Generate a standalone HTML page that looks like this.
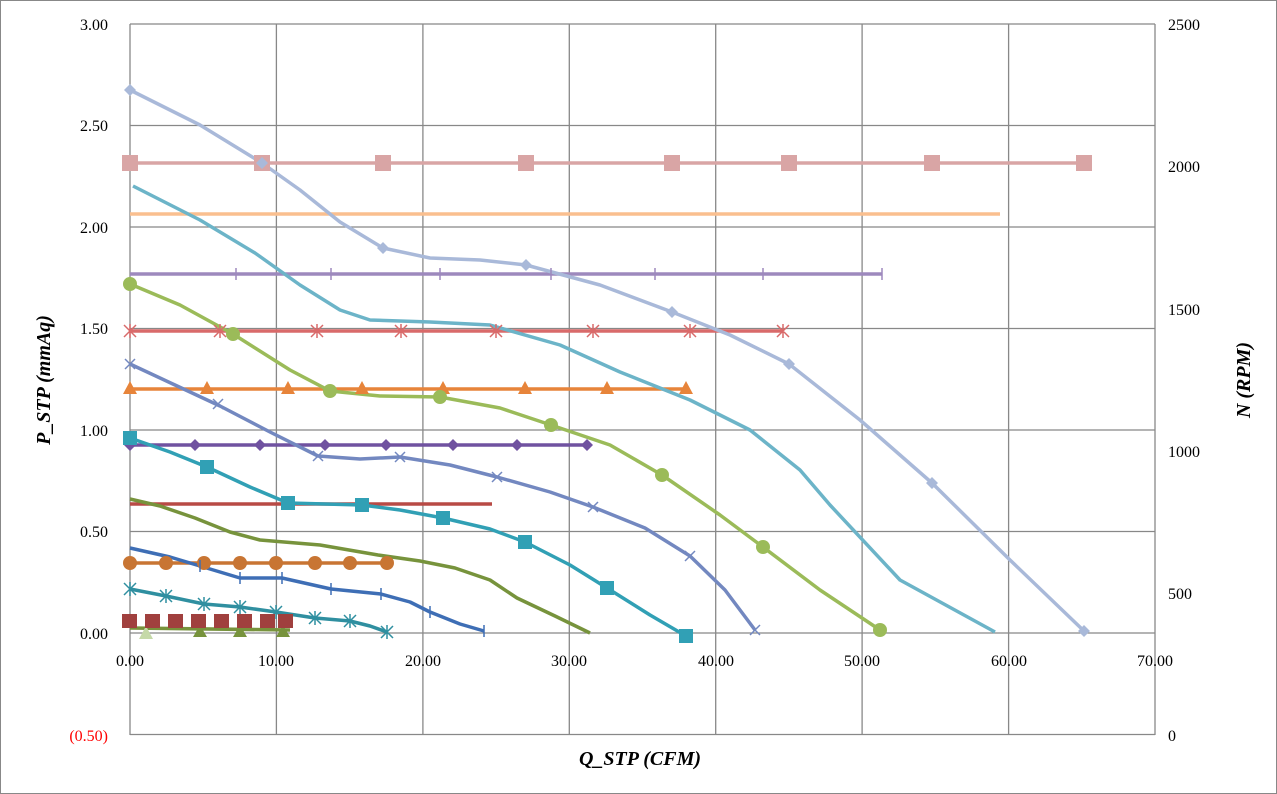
<!DOCTYPE html><html><head><style>body{margin:0;background:#fff}svg{display:block}text{font-family:"Liberation Serif",serif;font-size:16px;fill:#000}</style></head><body>
<svg width="1277" height="794" viewBox="0 0 1277 794">
<rect x="0.5" y="0.5" width="1276" height="793" fill="#fff" stroke="#888"/>
<g stroke="#888" stroke-width="1.3" fill="none">
<path d="M130 24H1155M130 125.5H1155M130 227H1155M130 328.5H1155M130 430H1155M130 531.5H1155M130 633H1155M130 734.5H1155"/>
<path d="M130 24V735M276.4 24V735M422.9 24V735M569.3 24V735M715.7 24V735M862.1 24V735M1008.6 24V735M1155 24V735"/>
</g>
<g text-anchor="end">
<text x="108" y="30">3.00</text><text x="108" y="131">2.50</text><text x="108" y="233">2.00</text><text x="108" y="334">1.50</text><text x="108" y="436">1.00</text><text x="108" y="537">0.50</text><text x="108" y="639">0.00</text><text x="108" y="741" style="fill:#f00">(0.50)</text></g>
<g><text x="1168" y="30">2500</text><text x="1168" y="172">2000</text><text x="1168" y="315">1500</text><text x="1168" y="457">1000</text><text x="1168" y="599">500</text><text x="1168" y="741">0</text></g>
<g text-anchor="middle"><text x="130" y="666">0.00</text><text x="276" y="666">10.00</text><text x="423" y="666">20.00</text><text x="569" y="666">30.00</text><text x="716" y="666">40.00</text><text x="862" y="666">50.00</text><text x="1009" y="666">60.00</text><text x="1155" y="666">70.00</text></g>
<text x="640" y="765" text-anchor="middle" style="font-weight:bold;font-style:italic;font-size:20px">Q_STP (CFM)</text>
<text transform="translate(50 380) rotate(-90)" text-anchor="middle" style="font-weight:bold;font-style:italic;font-size:20px">P_STP (mmAq)</text>
<text transform="translate(1250 380) rotate(-90)" text-anchor="middle" style="font-weight:bold;font-style:italic;font-size:20px">N (RPM)</text>
<g fill="none" stroke-width="3.5" stroke-linejoin="round">
<polyline stroke="#d9a5a5" points="130,163 1084,163"/>
<polyline stroke="#fabf8f" points="130,214 1000,214"/>
<polyline stroke="#9d89bd" points="130,274 882,274"/>
<polyline stroke="#d96a6a" points="130,331 783,331"/>
<polyline stroke="#e7843a" points="130,389 686,389"/>
<polyline stroke="#7052a0" points="130,445 587,445"/>
<polyline stroke="#b84a45" points="130,504 492,504"/>
<polyline stroke="#c87533" points="130,563 387,563"/>
<polyline stroke="#a9b9d9" points="130,90 200,125 262,163 300,190 340,222 383,248 430,258 480,260 526,265 600,285 672,312 730,335 789,364 860,420 932,483 1010,560 1084,631"/>
<polyline stroke="#6cb4c8" points="133,186 200,220 255,253 300,285 340,310 370,320 430,322 490,325 560,345 620,372 690,400 750,430 800,470 830,505 900,580 995,632"/>
<polyline stroke="#9bbb59" points="130,284 180,305 233,334 290,370 330,391 380,396 440,397 500,408 551,425 610,445 662,475 720,515 763,547 820,590 880,630"/>
<polyline stroke="#7388c0" points="130,364 175,385 220,406 270,432 318,456 360,459 400,457 450,465 497,477 550,492 593,507 645,528 690,556 725,590 755,630"/>
<polyline stroke="#31a0b5" points="130,438 170,452 207,467 250,487 288,503 362,505 400,510 443,518 490,529 525,542 570,565 607,588 650,615 686,636"/>
<polyline stroke="#77933c" points="130,499 160,506 195,518 230,532 260,540 320,545 378,555 420,561 455,568 490,580 517,598 555,616 590,633"/>
<polyline stroke="#3e6eb5" points="130,548 170,557 200,566 240,578 282,578 331,589 381,594 410,602 430,612 460,624 484,631"/>
<polyline stroke="#2f8fa0" points="130,589 166,596 204,604 240,607 276,612 315,618 350,621 370,626 387,632"/>
<polyline stroke="#77933c" points="130,628 290,630"/>
</g>
<g fill="#d9a5a5"><rect x="122" y="155" width="16" height="16"/><rect x="254" y="155" width="16" height="16"/><rect x="375" y="155" width="16" height="16"/><rect x="518" y="155" width="16" height="16"/><rect x="664" y="155" width="16" height="16"/><rect x="781" y="155" width="16" height="16"/><rect x="924" y="155" width="16" height="16"/><rect x="1076" y="155" width="16" height="16"/></g>
<g fill="#e7843a"><path d="M130 381l7 13h-14z M207 381l7 13h-14z M288 381l7 13h-14z M362 381l7 13h-14z M443 381l7 13h-14z M525 381l7 13h-14z M607 381l7 13h-14z M686 381l7 13h-14z"/></g>
<g fill="#7052a0"><path d="M130 439l6 6-6 6-6-6z M195 439l6 6-6 6-6-6z M260 439l6 6-6 6-6-6z M325 439l6 6-6 6-6-6z M386 439l6 6-6 6-6-6z M453 439l6 6-6 6-6-6z M517 439l6 6-6 6-6-6z M587 439l6 6-6 6-6-6z"/></g>
<g fill="#c87533"><circle cx="130" cy="563" r="7"/><circle cx="166" cy="563" r="7"/><circle cx="204" cy="563" r="7"/><circle cx="240" cy="563" r="7"/><circle cx="276" cy="563" r="7"/><circle cx="315" cy="563" r="7"/><circle cx="350" cy="563" r="7"/><circle cx="387" cy="563" r="7"/></g>
<g fill="#9bbb59"><circle cx="130" cy="284" r="7"/><circle cx="233" cy="334" r="7"/><circle cx="330" cy="391" r="7"/><circle cx="440" cy="397" r="7"/><circle cx="551" cy="425" r="7"/><circle cx="662" cy="475" r="7"/><circle cx="763" cy="547" r="7"/><circle cx="880" cy="630" r="7"/></g>
<g fill="#31a0b5"><rect x="123" y="431" width="14" height="14"/><rect x="200" y="460" width="14" height="14"/><rect x="281" y="496" width="14" height="14"/><rect x="355" y="498" width="14" height="14"/><rect x="436" y="511" width="14" height="14"/><rect x="518" y="535" width="14" height="14"/><rect x="600" y="581" width="14" height="14"/><rect x="679" y="629" width="14" height="14"/></g>
<g fill="#a9b9d9"><path d="M130 84l6 6-6 6-6-6z M262 157l6 6-6 6-6-6z M383 242l6 6-6 6-6-6z M526 259l6 6-6 6-6-6z M672 306l6 6-6 6-6-6z M789 358l6 6-6 6-6-6z M932 477l6 6-6 6-6-6z M1084 625l6 6-6 6-6-6z"/></g>
<g stroke-width="1.5" fill="none">
<path stroke="#9d89bd" d="M236 268v12M331 268v12M440 268v12M551 268v12M655 268v12M763 268v12M882 268v12"/>
<path stroke="#3e6eb5" d="M200 560v12M240 572v12M282 572v12M331 583v12M381 588v12M430 606v12M484 625v12"/>
<path stroke="#d96a6a" d="M124 325l12 12M136 325l-12 12M130 324v14M214 325l12 12M226 325l-12 12M220 324v14M311 325l12 12M323 325l-12 12M317 324v14M395 325l12 12M407 325l-12 12M401 324v14M490 325l12 12M502 325l-12 12M496 324v14M587 325l12 12M599 325l-12 12M593 324v14M684 325l12 12M696 325l-12 12M690 324v14M777 325l12 12M789 325l-12 12M783 324v14"/>
<path stroke="#7388c0" d="M125 359l10 10M135 359l-10 10M213 399l10 10M223 399l-10 10M313 451l10 10M323 451l-10 10M395 452l10 10M405 452l-10 10M492 472l10 10M502 472l-10 10M588 502l10 10M598 502l-10 10M685 551l10 10M695 551l-10 10M750 625l10 10M760 625l-10 10"/>
<path stroke="#2f8fa0" d="M124 583l12 12M136 583l-12 12M130 582v14M160 590l12 12M172 590l-12 12M166 589v14M198 598l12 12M210 598l-12 12M204 597v14M234 601l12 12M246 601l-12 12M240 600v14M270 606l12 12M282 606l-12 12M276 605v14M309 612l12 12M321 612l-12 12M315 611v14M344 615l12 12M356 615l-12 12M350 614v14M381 626l12 12M393 626l-12 12M387 625v14"/>
</g>
<path fill="#c5d9a8" d="M146 626l7 13h-14z"/>
<g fill="#77933c"><path d="M200 625l7 12h-14z M240 625l7 12h-14z M283 625l7 12h-14z"/></g>
<g fill="#a0403e"><rect x="122" y="614" width="15" height="14"/><rect x="145" y="614" width="15" height="14"/><rect x="168" y="614" width="15" height="14"/><rect x="191" y="614" width="15" height="14"/><rect x="214" y="614" width="15" height="14"/><rect x="237" y="614" width="15" height="14"/><rect x="260" y="614" width="15" height="14"/><rect x="278" y="614" width="15" height="14"/></g>
</svg></body></html>
